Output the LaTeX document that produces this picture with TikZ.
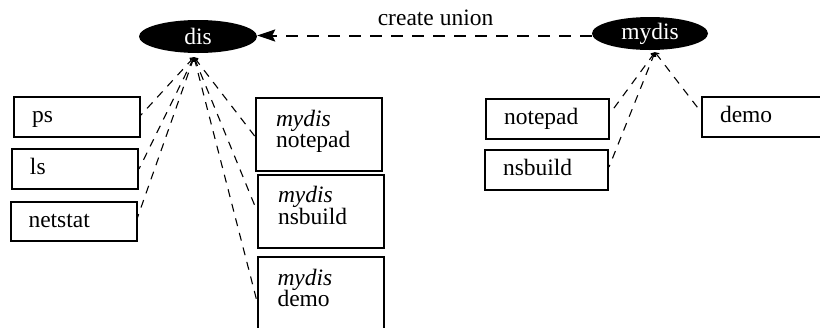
\documentclass[tikz,border=0pt]{standalone}
\usepackage{fontspec}
\setmainfont{Liberation Serif}
\usetikzlibrary{shapes.geometric,arrows.meta}
\begin{document}
\begin{tikzpicture}[x=1pt,y=-1pt,
  every node/.style={font=\fontsize{23.5}{21.5}\selectfont},
  disc/.style={ellipse, fill=black, text=white, inner sep=0pt, minimum height=33pt},
  onebox/.style={draw, line width=2pt, rectangle, minimum width=126pt, minimum height=40pt,
    inner xsep=18pt, text width=90pt, align=left, text height=16pt, text depth=5pt},
  twobox/.style={draw, line width=2pt, rectangle, minimum width=126pt, minimum height=73pt,
    inner xsep=20pt, text width=86pt, align=left, text height=16pt, text depth=33pt},
  fan/.style={line width=1.1pt, dash pattern=on 8pt off 7pt,
    {Straight Barb[length=3pt,width=5pt]}-},
  union/.style={line width=2pt, dash pattern=on 12pt off 9pt,
    -{Stealth[length=18pt,width=12pt,inset=3pt]}}
]
\useasboundingbox (0,0) rectangle (820,327);
\clip (0,0) rectangle (820,327);

% the two distributions
\node[disc, minimum width=118pt] (dis) at (198,36.5) {dis};
\node[disc, minimum width=116pt] (mydis) at (650,33.5) {mydis};

% members of dis
\node[onebox] (ps) at (77,117) {ps};
\node[onebox] (ls) at (75,169) {ls};
\node[onebox, minimum height=39pt] (netstat) at (73.5,221.5) {netstat};
\node[twobox] (mnote) at (319,134.5) {\textit{mydis}\\notepad};
\node[twobox] (mbuild) at (321,211) {\textit{mydis}\\nsbuild};
\node[twobox] (mdemo) at (320.5,293.5) {\textit{mydis}\\demo};

% members of mydis
\node[onebox, minimum width=123pt, text width=87pt] (note) at (547.5,118.5) {notepad};
\node[onebox, minimum width=123pt, text width=87pt] (build) at (546.5,170) {nsbuild};
\node[onebox] (demo) at (765,117) {demo};

% union arrow
\coordinate (ly) at (0,35.5);
\draw[union] (mydis.west |- ly) -- node[pos=0.467, anchor=base, yshift=10.5pt] {create union} (dis.east |- ly);

% membership links
\coordinate (dh) at ([xshift=-4pt,yshift=-4pt]dis.south);
\draw[fan] (dh) -- ([yshift=2pt]ps.east);
\draw[fan] (dh) -- (ls.east);
\draw[fan] (dh) -- ([yshift=4pt]netstat.east);
\draw[fan] (dh) -- ([yshift=-2pt]mnote.west);
\draw[fan] (dh) -- (mbuild.west);
\draw[fan] (dh) -- ([yshift=-6pt]mdemo.west);

\coordinate (mh) at ([xshift=5pt,yshift=-2pt]mydis.south);
\draw[fan] (mh) -- ([yshift=5pt]note.east);
\draw[fan] (mh) -- ([yshift=3pt]build.east);
\draw[fan] (mh) -- ([yshift=5pt]demo.west);
\end{tikzpicture}
\end{document}
